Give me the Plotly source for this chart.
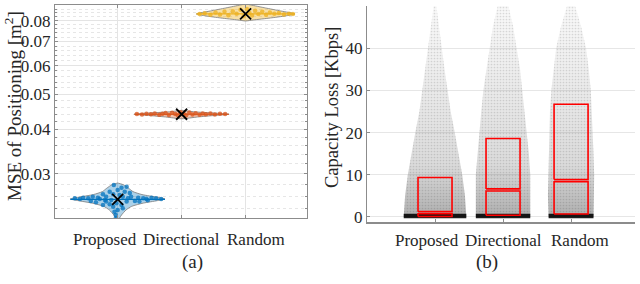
import math
import plotly.graph_objects as go

# ---------------- data ----------------
categories = ["Proposed", "Directional", "Random"]
cat_pos = [1, 2, 3]

# (a) MSE of positioning: violin outlines (value levels and half widths)
blue_levels = [0.0222, 0.02264, 0.02308, 0.02383, 0.02440, 0.02490, 0.02530, 0.02557,
               0.02585, 0.02630, 0.02680, 0.02740, 0.02800, 0.02832]
blue_hw = [0.0, 0.03, 0.06, 0.13, 0.22, 0.40, 0.62, 0.74, 0.62, 0.38, 0.24, 0.17, 0.09, 0.0]
orange_levels = [0.04270, 0.04320, 0.04362, 0.04396, 0.04432, 0.04461, 0.04490, 0.04510]
orange_hw = [0.0, 0.25, 0.52, 0.74, 0.50, 0.22, 0.08, 0.0]
yellow_levels = [0.07982, 0.08033, 0.08137, 0.08242, 0.08348, 0.08509, 0.08674, 0.08842, 0.0890]
yellow_hw = [0.0, 0.12, 0.39, 0.62, 0.77, 0.55, 0.31, 0.08, 0.0]

mse_center = [0.02550, 0.04396, 0.08348]

# individual samples: (jitter offset, value)
blue_off = [-0.06, 0.06, 0.14, 0.0, -0.125, 0.11, 0.19, -0.23, -0.07, -0.18, -0.39, -0.31,
            -0.46, -0.54, -0.67, -0.59, -0.28, -0.20, -0.10, 0.08, 0.16, 0.21, 0.32, 0.40,
            0.45, 0.53, 0.60, 0.68, 0.27, 0.34, 0.14, -0.02, -0.125, -0.23, -0.07, 0.06,
            0.08, 0.0, -0.05, -0.03, -0.03, -0.42, -0.34, 0.47, 0.03, -0.18]
blue_val = [0.02796, 0.02748, 0.02766, 0.02708, 0.02679, 0.02679, 0.02655, 0.02637, 0.02637,
            0.02595, 0.02595, 0.02578, 0.02568, 0.02578, 0.02568, 0.02557, 0.02557, 0.02540,
            0.02540, 0.02595, 0.02568, 0.02595, 0.02578, 0.02568, 0.02557, 0.02578, 0.02568,
            0.02557, 0.02524, 0.02514, 0.02514, 0.02487, 0.02471, 0.02460, 0.02434, 0.02460,
            0.02409, 0.02383, 0.02358, 0.02308, 0.02260, 0.02524, 0.02505, 0.02535, 0.02623,
            0.02514]
orange_off = [-0.70, -0.62, -0.55, -0.48, -0.42, -0.35, -0.30, -0.25, -0.20, -0.15, -0.10,
              -0.06, -0.02, 0.03, 0.07, 0.12, 0.17, 0.22, 0.28, 0.33, 0.38, 0.45, 0.52, 0.60, 0.68]
orange_val = [0.04404, 0.04390, 0.04410, 0.04395, 0.04420, 0.04385, 0.04412, 0.04430, 0.04378,
              0.04440, 0.04400, 0.04365, 0.04455, 0.04420, 0.04370, 0.04445, 0.04392, 0.04425,
              0.04380, 0.04415, 0.04398, 0.04420, 0.04392, 0.04408, 0.04400]
yellow_off = [-0.72, -0.64, -0.55, -0.47, -0.40, -0.33, -0.27, -0.20, -0.14, -0.08, -0.03,
              0.02, 0.06, 0.10, 0.15, 0.20, 0.26, 0.32, 0.38, 0.45, 0.52, 0.60, 0.68, 0.74]
yellow_val = [0.0834, 0.0838, 0.0830, 0.0842, 0.0832, 0.0846, 0.0828, 0.0850, 0.0836, 0.0858,
              0.0822, 0.0862, 0.0840, 0.0826, 0.0852, 0.0834, 0.0846, 0.0830, 0.0842, 0.0836,
              0.0840, 0.0832, 0.0836, 0.0834]

mse_ticks = [0.03, 0.04, 0.05, 0.06, 0.07, 0.08]
mse_tick_labels = ["0.03", "0.04", "0.05", "0.06", "0.07", "0.08"]
mse_minor = [0.022, 0.024, 0.026, 0.028, 0.032, 0.034, 0.036, 0.038, 0.042, 0.044, 0.046,
             0.048, 0.052, 0.054, 0.056, 0.058, 0.062, 0.064, 0.066, 0.068, 0.072, 0.074,
             0.076, 0.078, 0.082, 0.084, 0.086, 0.088]

# (b) Capacity loss: sample-cloud outlines
cap_levels = [0, 5, 10, 15, 20, 25, 30, 35, 40, 45, 50]
cap_hw = [
    [0.46, 0.44, 0.40, 0.35, 0.29, 0.23, 0.18, 0.14, 0.10, 0.06, 0.02],
    [0.40, 0.40, 0.40, 0.38, 0.35, 0.32, 0.29, 0.25, 0.20, 0.15, 0.08],
    [0.33, 0.34, 0.34, 0.33, 0.32, 0.31, 0.29, 0.26, 0.22, 0.15, 0.06],
]
cap_zero_level = 0.2
cap_q1 = [0.1, 0.4, 0.7]
cap_med = [1.0, 6.4, 8.6]
cap_q3 = [9.35, 18.6, 26.7]
cap_ticks = [0, 10, 20, 30, 40, 50]

# category label anchor positions (labels are spread slightly wider than the categories)
label_pos_a = [0.80, 2.0, 3.17]
label_pos_b = [0.88, 2.01, 3.13]

# ---------------- styling ----------------
FONT = "Liberation Serif"
TXT = "#262626"
AX = "#8c8c8c"
colors = ["#0072BD", "#D95319", "#EDB120"]
fills = ["rgba(0,114,189,0.33)", "rgba(217,83,25,0.35)", "rgba(237,177,32,0.4)"]

fig = go.Figure()


def poly(center, levels, hw):
    xs = [center + h for h in hw] + [center - h for h in reversed(hw)]
    ys = list(levels) + list(reversed(levels))
    return xs, ys


outlines = [(blue_levels, blue_hw), (orange_levels, orange_hw), (yellow_levels, yellow_hw)]
points = [(blue_off, blue_val), (orange_off, orange_val), (yellow_off, yellow_val)]

for i, c in enumerate(cat_pos):
    lv, hw = outlines[i]
    xs, ys = poly(c, lv, hw)
    fig.add_trace(go.Scatter(x=xs, y=ys, mode="lines", fill="toself", fillcolor=fills[i],
                             line=dict(color="rgba(130,130,130,0.85)", width=1, shape="spline",
                                       smoothing=0.6),
                             xaxis="x", yaxis="y", hoverinfo="skip", showlegend=False))
    off, val = points[i]
    fig.add_trace(go.Scatter(x=[c + o for o in off], y=val, mode="markers",
                             marker=dict(color=colors[i], size=4.5, opacity=0.75),
                             xaxis="x", yaxis="y", showlegend=False))
    wmax = max(hw)
    fig.add_trace(go.Scatter(x=[c - wmax, c + wmax], y=[mse_center[i], mse_center[i]],
                             mode="lines", line=dict(color=colors[i], width=1.2),
                             xaxis="x", yaxis="y", showlegend=False))

fig.add_trace(go.Scatter(x=cat_pos, y=mse_center, mode="markers",
                         marker=dict(symbol="x-thin", size=11, line=dict(color="black", width=1.8)),
                         xaxis="x", yaxis="y", showlegend=False))

# right panel clouds
for i, c in enumerate(cat_pos):
    xs, ys = poly(c, cap_levels, cap_hw[i])
    fig.add_trace(go.Scatter(x=xs, y=ys, mode="lines", fill="toself",
                             line=dict(width=0, color="rgba(0,0,0,0)"),
                             fillgradient=dict(type="vertical", start=0, stop=50,
                                               colorscale=[[0, "rgba(60,60,60,0.42)"],
                                                           [0.25, "rgba(90,90,90,0.22)"],
                                                           [1, "rgba(120,120,120,0.05)"]]),
                             xaxis="x2", yaxis="y2", hoverinfo="skip", showlegend=False))
    fig.add_trace(go.Scatter(x=xs, y=ys, mode="lines", fill="toself",
                             line=dict(width=0, color="rgba(0,0,0,0)"),
                             fillpattern=dict(shape=".", fgcolor="rgba(40,40,40,0.3)",
                                              bgcolor="rgba(0,0,0,0)", size=3, solidity=0.25),
                             xaxis="x2", yaxis="y2", hoverinfo="skip", showlegend=False))
    w0 = cap_hw[i][0]
    fig.add_trace(go.Scatter(x=[c - w0, c + w0], y=[cap_zero_level, cap_zero_level], mode="lines",
                             line=dict(color="rgba(0,0,0,0.88)", width=4.5),
                             xaxis="x2", yaxis="y2", showlegend=False))

bw = 0.25
gap = 0.25
for i, c in enumerate(cat_pos):
    for lo, hi in [(cap_q1[i], cap_med[i] - gap), (cap_med[i] + gap, cap_q3[i])]:
        fig.add_trace(go.Scatter(x=[c - bw, c + bw, c + bw, c - bw, c - bw],
                                 y=[lo, lo, hi, hi, lo], mode="lines",
                                 line=dict(color="#ff0000", width=1.6),
                                 xaxis="x2", yaxis="y2", showlegend=False))

tick_font = dict(family=FONT, size=17, color=TXT)
annotations = [
    dict(text="MSE of Positioning [m<sup>2</sup>]", x=13 / 640, y=1 - 106 / 284,
         xref="paper", yref="paper", textangle=-90, showarrow=False,
         font=dict(family=FONT, size=19, color=TXT), xanchor="center", yanchor="middle"),
    dict(text="Capacity Loss [Kbps]", x=332 / 640, y=1 - 108 / 284,
         xref="paper", yref="paper", textangle=-90, showarrow=False,
         font=dict(family=FONT, size=18.5, color=TXT), xanchor="center", yanchor="middle"),
    dict(text="(a)", x=180 / 640, y=1 - 275 / 284, xref="paper", yref="paper",
         showarrow=False, font=dict(family=FONT, size=19, color=TXT)),
    dict(text="(b)", x=500 / 640, y=1 - 275 / 284, xref="paper", yref="paper",
         showarrow=False, font=dict(family=FONT, size=19, color=TXT)),
]
for name, xa in zip(categories, label_pos_a):
    annotations.append(dict(text=name, x=xa, xref="x", y=1 - 239 / 284, yref="paper",
                            showarrow=False, font=tick_font, xanchor="center", yanchor="middle"))
for name, xb in zip(categories, label_pos_b):
    annotations.append(dict(text=name, x=xb, xref="x2", y=1 - 240 / 284, yref="paper",
                            showarrow=False, font=tick_font, xanchor="center", yanchor="middle"))

fig.update_layout(
    width=640, height=284,
    margin=dict(l=0, r=0, t=0, b=0, autoexpand=False),
    paper_bgcolor="white", plot_bgcolor="white",
    font=dict(family=FONT, color=TXT),
    showlegend=False,
    xaxis=dict(domain=[55 / 640, 307 / 640], range=[0.02, 3.96], automargin=False,
               tickvals=cat_pos, showticklabels=False,
               showgrid=True, gridcolor="#e4e4e4", gridwidth=1,
               zeroline=False, showline=True, linecolor=AX, linewidth=1, mirror="ticks",
               ticks="inside", ticklen=3, tickcolor=AX),
    yaxis=dict(domain=[1 - 218 / 284, 1 - 5 / 284], type="log", automargin=False,
               range=[math.log10(0.02264), math.log10(0.0884)],
               tickmode="array", tickvals=mse_ticks, ticktext=mse_tick_labels,
               tickfont=tick_font, showgrid=True, gridcolor="#e4e4e4", gridwidth=1,
               zeroline=False, showline=True, linecolor=AX, linewidth=1, mirror="ticks",
               ticks="inside", ticklen=3, tickcolor=AX,
               minor=dict(tickmode="array", tickvals=mse_minor, showgrid=True,
                          gridcolor="#e6e6e6", griddash="dot", gridwidth=1,
                          ticks="inside", ticklen=2, tickcolor=AX)),
    xaxis2=dict(domain=[367 / 640, 635 / 640], range=[0.0, 3.94], anchor="y2",
                automargin=False, tickvals=cat_pos, showticklabels=False,
                showgrid=False, zeroline=False, showline=True,
                linecolor=AX, linewidth=1.6, ticks="inside", ticklen=3, tickcolor=AX),
    yaxis2=dict(domain=[1 - 222 / 284, 1 - 6 / 284], range=[-1.2, 50], anchor="x2",
                automargin=False,
                tickvals=cap_ticks, tickfont=tick_font, showgrid=True, gridcolor="#e6e6e6",
                zeroline=False, showline=True, linecolor=AX, linewidth=1,
                ticks="inside", ticklen=3, tickcolor=AX),
    annotations=annotations,
)

fig.write_html("out.html", config={"displayModeBar": False},
               post_script="document.body.style.margin='0';document.body.style.overflow='hidden';")
